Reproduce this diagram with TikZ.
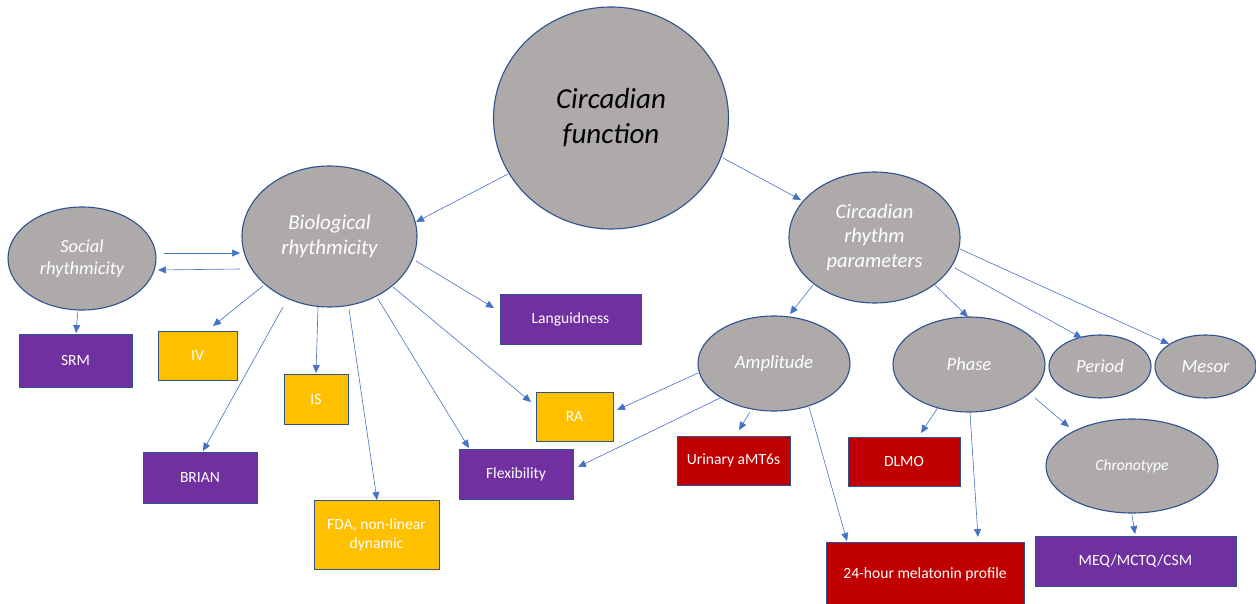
\documentclass[tikz,border=0pt]{standalone}
\usepackage{fontspec}
\setmainfont{Carlito}
\usetikzlibrary{calc,shapes.geometric,arrows.meta}
\definecolor{ellfill}{HTML}{AEAAAA}
\definecolor{edge}{HTML}{2F528F}
\definecolor{conncol}{HTML}{4472C4}
\definecolor{purp}{HTML}{7030A0}
\definecolor{gold}{HTML}{FFC000}
\definecolor{redbox}{HTML}{C00000}
\tikzset{
  ell/.style={ellipse, draw=edge, line width=1.1pt, fill=ellfill, inner sep=0pt, align=center, text=white},
  box/.style={rectangle, draw=edge, line width=1pt, inner sep=0pt, align=center, text=white,
              font=\fontsize{15.6}{19}\selectfont},
  pbox/.style={box, fill=purp},
  gbox/.style={box, fill=gold},
  rbox/.style={box, fill=redbox},
  conn/.style={draw=conncol, line width=0.6pt, -{Triangle[length=8pt,width=7pt]}},
}
\begin{document}
\begin{tikzpicture}[x=1pt,y=-1pt]
\useasboundingbox (0,0) rectangle (1256,604);
% ellipses
\node[ell, text=black, minimum width=235pt, minimum height=222pt,
      font=\fontsize{29}{35}\selectfont\itshape] (cf) at (611,118) {\raisebox{-3pt}{Circadian}\\\raisebox{-3pt}{function}};
\node[ell, minimum width=175pt, minimum height=141pt,
      font=\fontsize{21}{25}\selectfont\itshape] (bio) at (329.5,236.5) {Biological\\rhythmicity};
\node[ell, minimum width=148pt, minimum height=103pt,
      font=\fontsize{18.4}{22}\selectfont\itshape] (soc) at (82,258.5) {Social\\rhythmicity};
\node[ell, minimum width=171pt, minimum height=131pt,
      font=\fontsize{20.5}{24.5}\selectfont\itshape] (crp) at (874.5,237.5) {Circadian\\rhythm\\parameters};
\node[ell, minimum width=152pt, minimum height=95pt,
      font=\fontsize{18.7}{22}\selectfont\itshape] (amp) at (774,363.5) {Amplitude};
\node[ell, minimum width=152pt, minimum height=95pt,
      font=\fontsize{18.5}{22}\selectfont\itshape] (pha) at (969,364.5) {Phase};
\node[ell, minimum width=102pt, minimum height=63pt,
      font=\fontsize{18.5}{22}\selectfont\itshape] (per) at (1100,366.5) {Period};
\node[ell, minimum width=101pt, minimum height=63pt,
      font=\fontsize{18.5}{22}\selectfont\itshape] (mes) at (1205.5,366.5) {Mesor};
\node[ell, minimum width=172pt, minimum height=94pt,
      font=\fontsize{15.6}{18}\selectfont\itshape] (chr) at (1132,466) {Chronotype};
% boxes
\node[pbox, minimum width=113pt, minimum height=53pt] (srm) at (75.5,360.5) {SRM};
\node[gbox, minimum width=79pt, minimum height=49pt] (iv) at (197.5,355.5) {IV};
\node[gbox, minimum width=64pt, minimum height=50pt] (is) at (316,399) {IS};
\node[pbox, minimum width=141pt, minimum height=50pt] (lang) at (570.5,319) {Languidness};
\node[gbox, minimum width=77pt, minimum height=49pt] (ra) at (574.5,416.5) {RA};
\node[pbox, minimum width=114pt, minimum height=50pt] (flex) at (516,474) {Flexibility};
\node[gbox, minimum width=125pt, minimum height=69pt] (fda) at (376.5,534.5) {FDA, non-linear\\dynamic};
\node[pbox, minimum width=114pt, minimum height=51pt] (brian) at (200,477.5) {BRIAN};
\node[rbox, minimum width=113pt, minimum height=49pt] (ura) at (733.5,460.5) {Urinary aMT6s};
\node[rbox, minimum width=112pt, minimum height=49pt] (dlmo) at (904,461.5) {DLMO};
\node[rbox, minimum width=198pt, minimum height=64pt] (mel) at (925,574) {24-hour melatonin profile};
\node[pbox, minimum width=201pt, minimum height=50pt] (meq) at (1135.5,561) {MEQ/MCTQ/CSM};
% connectors
\draw[conn] ($(cf)+(-103,56)$) -- ($(bio)+(86.5,-14.5)$);
\draw[conn] ($(cf)+(112,40)$) -- ($(crp)+(-73.5,-37.5)$);
\draw[conn] ($(soc)+(82,-5.5)$) -- ($(bio)+(-89.5,16.5)$);
\draw[conn] ($(bio)+(-89.5,32.5)$) -- ($(soc)+(76,11.5)$);
\draw[conn] ($(soc)+(-4,51.5)$) -- ($(srm)+(0.5,-27.5)$);
\draw[conn] ($(bio)+(-66.5,49.5)$) -- ($(iv)+(15.5,-29.5)$);
\draw[conn] ($(bio)+(-46.5,70.5)$) -- ($(brian)+(3,-26.5)$);
\draw[conn] ($(bio)+(-11.5,70.5)$) -- ($(is)+(0,-26)$);
\draw[conn] ($(bio)+(19.5,72.5)$) -- ($(fda)+(0.5,-34.5)$);
\draw[conn] ($(bio)+(48.5,62.5)$) -- ($(flex)+(-47,-26)$);
\draw[conn] ($(bio)+(63.5,50.5)$) -- ($(ra)+(-43.5,-14.5)$);
\draw[conn] ($(bio)+(86.5,24.5)$) -- ($(lang)+(-76.5,-11)$);
\draw[conn] ($(crp)+(-61.5,47.5)$) -- ($(amp)+(16,-49.5)$);
\draw[conn] ($(crp)+(60.5,47.5)$) -- ($(pha)+(-1,-47.5)$);
\draw[conn] ($(crp)+(80.5,30.5)$) -- ($(per)+(-18,-28.5)$);
\draw[conn] ($(crp)+(85.5,11.5)$) -- ($(mes)+(-36.5,-22.5)$);
\draw[conn] ($(amp)+(-76,9.5)$) -- ($(ra)+(42.5,-6.5)$);
\draw[conn] ($(amp)+(-54,34.5)$) -- ($(flex)+(62,-7)$);
\draw[conn] ($(amp)+(-24,48.5)$) -- ($(ura)+(5.5,-30.5)$);
\draw[conn] ($(amp)+(35,43.5)$) -- ($(mel)+(-78,-33)$);
\draw[conn] ($(pha)+(-30,41.5)$) -- ($(dlmo)+(17,-28.5)$);
\draw[conn] ($(pha)+(1,48.5)$) -- ($(mel)+(53,-37)$);
\draw[conn] ($(pha)+(66,33.5)$) -- ($(chr)+(-63,-39)$);
\draw[conn] ($(chr)+(0,49)$) -- ($(meq)+(-0.5,-27)$);
\end{tikzpicture}
\end{document}
